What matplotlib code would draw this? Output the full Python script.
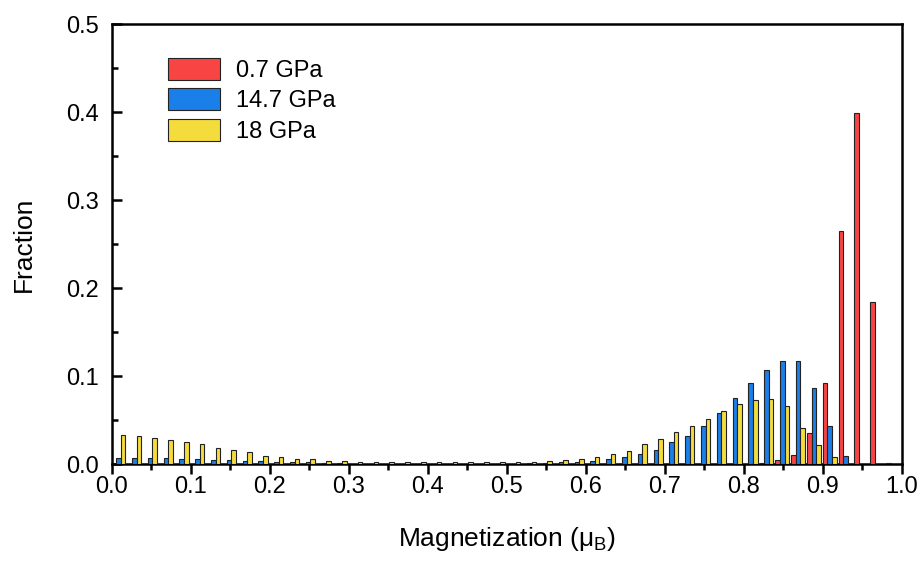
import numpy as np
import matplotlib
matplotlib.use("Agg")
import matplotlib.pyplot as plt
from matplotlib.ticker import MultipleLocator, FormatStrFormatter

plt.rcParams['font.family'] = ['Liberation Sans', 'DejaVu Sans']
plt.rcParams['mathtext.fontset'] = 'custom'
plt.rcParams['mathtext.rm'] = 'Liberation Sans'

# Histogram bins (left edges) of magnetization, width 0.02 muB
bin_width = 0.02
bin_left = np.round(np.arange(0, 1.0, bin_width), 2)

labels = ["0.7 GPa", "14.7 GPa", "18 GPa"]
colors = ["#F94444", "#1A7FE9", "#F4DC3C"]

# fractions, one value per bin
frac_07 = [0.0] * 41 + [0.001, 0.005, 0.011, 0.036, 0.092, 0.265, 0.399, 0.184, 0.0015]

frac_147 = [0.0075, 0.0075, 0.0075, 0.0075, 0.0064, 0.006, 0.0053, 0.0045, 0.0038, 0.0038,
            0.003, 0.0025, 0.0025, 0.002, 0.001, 0.0005, 0.0, 0.0, 0.0, 0.0,
            0.0, 0.0, 0.0, 0.0, 0.0, 0.0005, 0.001, 0.0015, 0.0025, 0.003,
            0.0037, 0.006, 0.0083, 0.0113, 0.0166, 0.0253, 0.0325, 0.0435, 0.0587, 0.0753,
            0.092, 0.107, 0.117, 0.117, 0.087, 0.0436, 0.0095, 0.0, 0.0, 0.0]

frac_18 = [0.033, 0.032, 0.030, 0.028, 0.025, 0.023, 0.019, 0.016, 0.014, 0.010,
           0.008, 0.0065, 0.006, 0.004, 0.0035, 0.003, 0.003, 0.0028, 0.0025, 0.0025,
           0.0025, 0.0025, 0.0025, 0.0025, 0.0025, 0.0028, 0.003, 0.0038, 0.0048, 0.006,
           0.0088, 0.0113, 0.0155, 0.0227, 0.0288, 0.0364, 0.043, 0.052, 0.061, 0.068,
           0.073, 0.074, 0.066, 0.041, 0.022, 0.008, 0.0, 0.0, 0.0, 0.0]

series = [frac_07, frac_147, frac_18]

fig = plt.figure(figsize=(9.23, 5.63), dpi=100)
ax = fig.add_axes([0.121, 0.1753, 0.856, 0.7813])

# three bars side by side inside each bin
bar_w = 0.0058
for j, (vals, col, lab) in enumerate(zip(series, colors, labels)):
    ax.bar(bin_left + bar_w * (j + 0.5), vals, width=bar_w, color=col,
           edgecolor='#222222', linewidth=0.8, label=lab, zorder=3)

ax.set_xlim(0, 1.0)
ax.set_ylim(0, 0.5)

ax.xaxis.set_major_locator(MultipleLocator(0.1))
ax.xaxis.set_minor_locator(MultipleLocator(0.05))
ax.yaxis.set_major_locator(MultipleLocator(0.1))
ax.yaxis.set_minor_locator(MultipleLocator(0.05))
ax.xaxis.set_major_formatter(FormatStrFormatter('%.1f'))
ax.yaxis.set_major_formatter(FormatStrFormatter('%.1f'))

ax.tick_params(axis='x', which='major', direction='out', length=7, width=1.8,
               labelsize=17, pad=1.5)
ax.tick_params(axis='x', which='minor', direction='out', length=4, width=1.8)
ax.tick_params(axis='y', which='major', direction='in', length=7, width=1.8,
               labelsize=17, pad=9)
ax.tick_params(axis='y', which='minor', direction='in', length=4, width=1.8)

for s in ax.spines.values():
    s.set_linewidth(1.8)

ax.set_xlabel("Magnetization (μ$_{\\mathregular{B}}$)", fontsize=19, labelpad=19)
ax.set_ylabel("Fraction", fontsize=19, labelpad=22)

ax.legend(loc='upper left', bbox_to_anchor=(0.071, 0.924), frameon=False,
          fontsize=17, handlelength=2.2, handleheight=1.05, labelspacing=0.27,
          handletextpad=0.7, borderpad=0, borderaxespad=0)

fig.savefig("out.png", dpi=100)
